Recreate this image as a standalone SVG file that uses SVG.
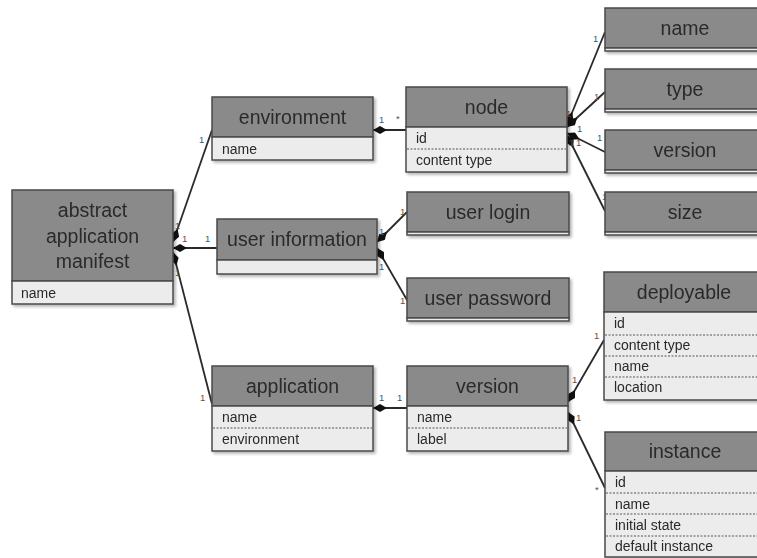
<svg xmlns="http://www.w3.org/2000/svg" width="757" height="558" viewBox="0 0 757 558">
<style>
.hd{fill:#8a8a8a;stroke:#4a4a4a;stroke-width:1.5}
.at{fill:#ececec;stroke:#4a4a4a;stroke-width:1.5}
.dash{stroke:#555;stroke-width:1;stroke-dasharray:2,1.5}
.ht{font-family:"Liberation Sans",Arial,sans-serif;font-size:19.5px;fill:#2a2a2a;text-anchor:middle}
.tt{font-family:"Liberation Sans",Arial,sans-serif;font-size:14px;fill:#2a2a2a}
.m{font-family:"Liberation Sans",Arial,sans-serif;font-size:9.5px;fill:#555}
.c{stroke:#2a2a2a;stroke-width:1.8;fill:none;marker-start:url(#dia)}
.bx{filter:url(#sh)}
</style>
<defs>
<marker id="dia" viewBox="0 0 14 8" refX="0" refY="4" markerWidth="14" markerHeight="8" markerUnits="userSpaceOnUse" orient="auto">
<path d="M0,4 L7,0 L14,4 L7,8 Z" fill="#111"/>
</marker>
<filter id="sh" x="-5%" y="-5%" width="115%" height="125%">
<feDropShadow dx="2" dy="2" stdDeviation="1.5" flood-color="#000" flood-opacity="0.3"/>
</filter>
</defs>
<rect width="757" height="558" fill="#fff"/>

<g id="connectors">
<path class="c" d="M173,242 L212,130"/>
<path class="c" d="M173,248 L217,248"/>
<path class="c" d="M173,252 L212,404"/>
<path class="c" d="M373,130 L406,130"/>
<path class="c" d="M567,125 L605,32"/>
<path class="c" d="M567,127 L605,92"/>
<path class="c" d="M567,133 L605,152"/>
<path class="c" d="M567,135 L605,211"/>
<path class="c" d="M377,242 L407,212"/>
<path class="c" d="M377,248 L407,300"/>
<path class="c" d="M373,408 L407,408"/>
<path class="c" d="M568,402 L604,340"/>
<path class="c" d="M568,412 L605,488"/>
<g id="labels">
<text class="m" x="199" y="143">1</text>
<text class="m" x="175" y="229">1</text>
<text class="m" x="182" y="242">1</text>
<text class="m" x="205" y="242">1</text>
<text class="m" x="175" y="276">1</text>
<text class="m" x="200" y="401">1</text>
<text class="m" x="379" y="123">1</text>
<text class="m" x="396" y="122">*</text>
<text class="m" x="593" y="42">1</text>
<text class="m" x="594" y="100">1</text>
<text class="m" x="597" y="141">1</text>
<text class="m" x="602" y="200">1</text>
<text class="m" x="566" y="117">1</text>
<text class="m" x="577" y="132">1</text>
<text class="m" x="569" y="146">1</text>
<text class="m" x="576" y="146">1</text>
<text class="m" x="379" y="235">1</text>
<text class="m" x="379" y="270">1</text>
<text class="m" x="400" y="215">1</text>
<text class="m" x="400" y="304">1</text>
<text class="m" x="379" y="401">1</text>
<text class="m" x="397" y="401">1</text>
<text class="m" x="594" y="339">1</text>
<text class="m" x="572" y="383">1</text>
<text class="m" x="576" y="421">1</text>
<text class="m" x="595" y="493">*</text>
</g>
</g>

<g id="abstract-application-manifest" class="bx">
<rect class="hd" x="12" y="190" width="161" height="91"/>
<rect class="at" x="12" y="281" width="161" height="23"/>
<text class="ht" x="92.5" y="217">abstract</text>
<text class="ht" x="92.5" y="243">application</text>
<text class="ht" x="92.5" y="268">manifest</text>
<text class="tt" x="21" y="298">name</text>
</g>

<g id="environment" class="bx">
<rect class="hd" x="212" y="97" width="161" height="40"/>
<rect class="at" x="212" y="137" width="161" height="23"/>
<text class="ht" x="292.5" y="124">environment</text>
<text class="tt" x="222" y="154">name</text>
</g>

<g id="user-information" class="bx">
<rect class="hd" x="217" y="219" width="160" height="41"/>
<rect class="at" x="217" y="260" width="160" height="14"/>
<text class="ht" x="297" y="246">user information</text>
</g>

<g id="node" class="bx">
<rect class="hd" x="406" y="87" width="161" height="40"/>
<rect class="at" x="406" y="127" width="161" height="45"/>
<line class="dash" x1="407" y1="149" x2="566" y2="149"/>
<text class="ht" x="486.5" y="114">node</text>
<text class="tt" x="416" y="143">id</text>
<text class="tt" x="416" y="165">content type</text>
</g>

<g id="name" class="bx">
<rect class="hd" x="605" y="8" width="160" height="40"/>
<rect class="at" x="605" y="48" width="160" height="3"/>
<text class="ht" x="685" y="35">name</text>
</g>

<g id="type" class="bx">
<rect class="hd" x="605" y="69" width="160" height="40"/>
<rect class="at" x="605" y="109" width="160" height="3"/>
<text class="ht" x="685" y="96">type</text>
</g>

<g id="version-attr" class="bx">
<rect class="hd" x="605" y="130" width="160" height="40"/>
<rect class="at" x="605" y="170" width="160" height="3"/>
<text class="ht" x="685" y="157">version</text>
</g>

<g id="size" class="bx">
<rect class="hd" x="605" y="192" width="160" height="40"/>
<rect class="at" x="605" y="232" width="160" height="3"/>
<text class="ht" x="685" y="219">size</text>
</g>

<g id="user-login" class="bx">
<rect class="hd" x="407" y="192" width="162" height="40"/>
<rect class="at" x="407" y="232" width="162" height="3"/>
<text class="ht" x="488" y="219">user login</text>
</g>

<g id="user-password" class="bx">
<rect class="hd" x="407" y="278" width="162" height="40"/>
<rect class="at" x="407" y="318" width="162" height="3"/>
<text class="ht" x="488" y="305">user password</text>
</g>

<g id="application" class="bx">
<rect class="hd" x="212" y="366" width="161" height="40"/>
<rect class="at" x="212" y="406" width="161" height="45"/>
<line class="dash" x1="213" y1="428" x2="372" y2="428"/>
<text class="ht" x="292.5" y="393">application</text>
<text class="tt" x="222" y="422">name</text>
<text class="tt" x="222" y="444">environment</text>
</g>

<g id="version" class="bx">
<rect class="hd" x="407" y="366" width="161" height="40"/>
<rect class="at" x="407" y="406" width="161" height="45"/>
<line class="dash" x1="408" y1="428" x2="567" y2="428"/>
<text class="ht" x="487.5" y="393">version</text>
<text class="tt" x="417" y="422">name</text>
<text class="tt" x="417" y="444">label</text>
</g>

<g id="deployable" class="bx">
<rect class="hd" x="604" y="272" width="161" height="40"/>
<rect class="at" x="604" y="312" width="161" height="88"/>
<line class="dash" x1="605" y1="335" x2="757" y2="335"/>
<line class="dash" x1="605" y1="356" x2="757" y2="356"/>
<line class="dash" x1="605" y1="377" x2="757" y2="377"/>
<text class="ht" x="684" y="299">deployable</text>
<text class="tt" x="614" y="328">id</text>
<text class="tt" x="614" y="350">content type</text>
<text class="tt" x="614" y="371">name</text>
<text class="tt" x="614" y="392">location</text>
</g>

<g id="instance" class="bx">
<rect class="hd" x="605" y="432" width="160" height="39"/>
<rect class="at" x="605" y="471" width="160" height="86"/>
<line class="dash" x1="606" y1="493" x2="757" y2="493"/>
<line class="dash" x1="606" y1="514" x2="757" y2="514"/>
<line class="dash" x1="606" y1="536" x2="757" y2="536"/>
<text class="ht" x="685" y="458">instance</text>
<text class="tt" x="615" y="487">id</text>
<text class="tt" x="615" y="509">name</text>
<text class="tt" x="615" y="530">initial state</text>
<text class="tt" x="615" y="551">default instance</text>
</g>
</svg>
